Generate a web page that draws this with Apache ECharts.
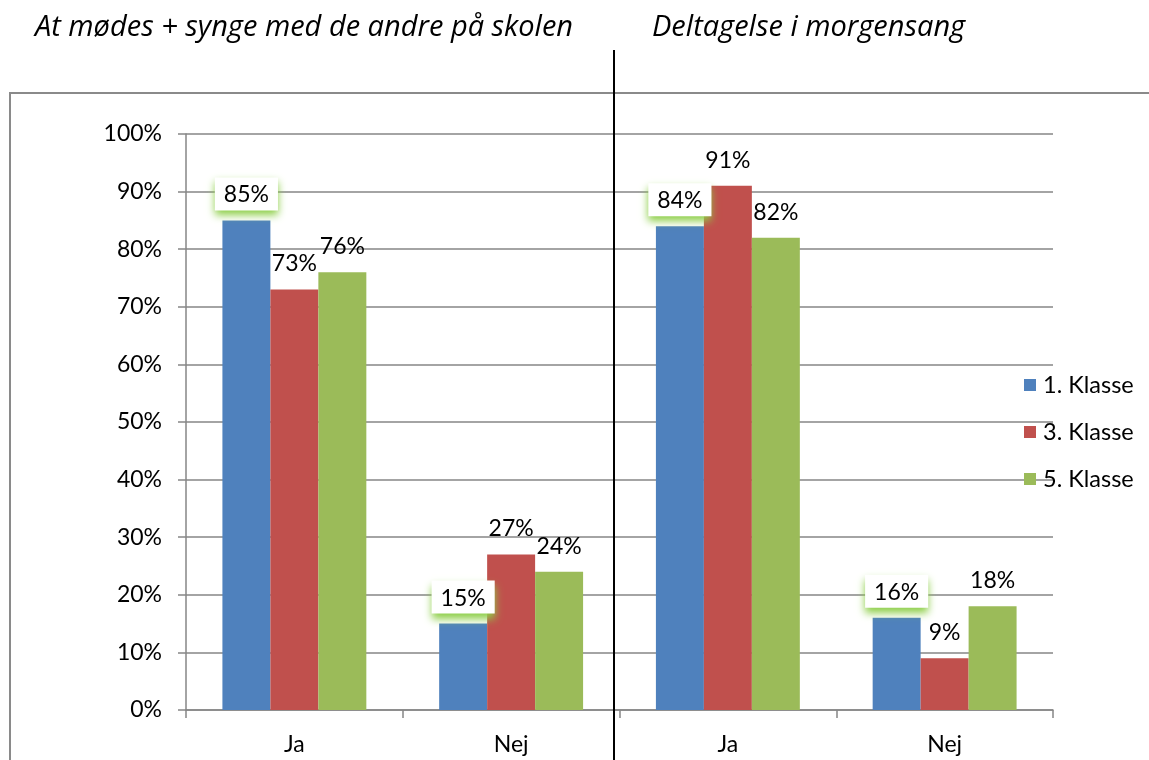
<!DOCTYPE html>
<html>
<head>
<meta charset="utf-8">
<script src="https://cdn.jsdelivr.net/npm/echarts@6/dist/echarts.min.js"></script>
<style>
html,body{margin:0;padding:0;background:#fff;}
#chart{width:1149px;height:760px;}
</style>
</head>
<body>
<div id="chart"></div>
<script>
const categories = ['Ja', 'Nej', 'Ja', 'Nej'];
const seriesNames = ['1. Klasse', '3. Klasse', '5. Klasse'];
const klasse1 = [85, 15, 84, 16];
const klasse3 = [73, 27, 91, 9];
const klasse5 = [76, 24, 82, 18];
const yTicks = [0, 10, 20, 30, 40, 50, 60, 70, 80, 90, 100];
const titles = ['At mødes + synge med de andre på skolen', 'Deltagelse i morgensang'];
const colors = ['#4F81BD', '#C0504D', '#9BBB59'];

const FONT = 'Lato, Carlito, Calibri, sans-serif';
const TFONT = '"Open Sans", sans-serif';
const chart = echarts.init(document.getElementById('chart'), null, {renderer: 'canvas'});

const baseLabel = {
  show: true,
  position: 'top',
  distance: 14,
  color: '#000',
  fontFamily: FONT,
  fontSize: 23,
  formatter: p => p.value + '%'
};

const titleStyle = {fontFamily: TFONT, fontStyle: 'italic', fontWeight: 'normal', fontSize: 29, color: '#000'};

const option = {
  animation: false,
  backgroundColor: '#fff',
  color: colors,
  title: [
    {text: titles[0], left: 35, top: 13, padding: 0, textStyle: titleStyle},
    {text: titles[1], left: 652, top: 13, padding: 0, textStyle: titleStyle}
  ],
  legend: {
    orient: 'vertical',
    left: 1019,
    top: 368,
    itemWidth: 12,
    itemHeight: 12,
    itemGap: 23,
    icon: 'rect',
    textStyle: {fontFamily: FONT, fontSize: 23.5, color: '#000', padding: [0, 0, 0, 2]},
    data: seriesNames
  },
  grid: {left: 186, right: 96, top: 134, bottom: 50, containLabel: false},
  xAxis: {
    type: 'category',
    data: categories,
    axisLine: {lineStyle: {color: '#868686', width: 1.5}},
    axisTick: {show: true, length: 8, lineStyle: {color: '#868686', width: 1.5}},
    axisLabel: {color: '#000', fontFamily: FONT, fontSize: 23, margin: 23}
  },
  yAxis: {
    type: 'value',
    min: yTicks[0],
    max: yTicks[yTicks.length - 1],
    interval: 10,
    axisLine: {show: true, lineStyle: {color: '#868686', width: 1.5}},
    axisTick: {show: true, length: 8, lineStyle: {color: '#868686', width: 1.5}},
    splitLine: {lineStyle: {color: '#868686', width: 1.5}},
    axisLabel: {color: '#000', fontFamily: FONT, fontSize: 23, margin: 24, formatter: '{value}%'}
  },
  series: [
    {name: seriesNames[0], type: 'bar', data: klasse1, barGap: '0%', barCategoryGap: '33.6%',
     label: Object.assign({}, baseLabel, {
       backgroundColor: '#fff', padding: [6, 9, 4, 9], distance: 10,
       shadowColor: 'rgba(140,206,70,1)', shadowBlur: 8, shadowOffsetY: 5
     })},
    {name: seriesNames[1], type: 'bar', data: klasse3, barGap: '0%', barCategoryGap: '33.6%', label: baseLabel},
    {name: seriesNames[2], type: 'bar', data: klasse5, barGap: '0%', barCategoryGap: '33.6%', label: baseLabel}
  ],
  graphic: [
    {type: 'rect', z: -10, silent: true,
     shape: {x: 10, y: 93, width: 1300, height: 900},
     style: {fill: 'none', stroke: '#8a8a8a', lineWidth: 2}},
    {type: 'line', z: 100, silent: true,
     shape: {x1: 614, y1: 50, x2: 614, y2: 760},
     style: {stroke: '#000', lineWidth: 2}}
  ]
};
chart.setOption(option);
</script>
</body>
</html>
